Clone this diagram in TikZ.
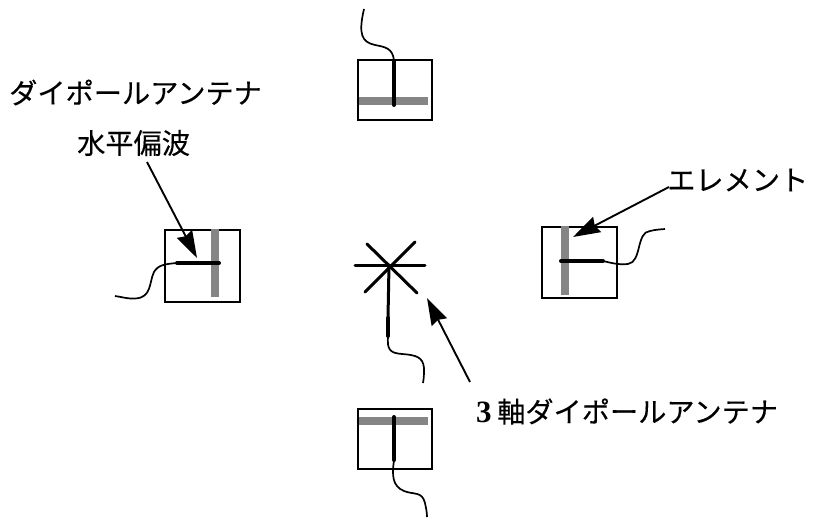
\documentclass[tikz,border=0pt]{standalone}
\usepackage{fontspec}
\setmainfont{Liberation Serif}
\newfontfamily\cjk[FakeBold=0.25]{Noto Sans CJK JP}
\usetikzlibrary{arrows.meta}
\definecolor{elemgray}{HTML}{858585}
\tikzset{
  x=1pt,y=-1pt,
  boxnode/.style={draw=black,line width=1.6pt,inner sep=0pt,anchor=north west},
  grayelem/.style={draw=none,fill=elemgray,inner sep=0pt,anchor=north west},
  feed/.style={line width=4pt,line cap=round,draw=black},
  wire/.style={line width=1.7pt,draw=black},
  callout/.style={line width=1.9pt,draw=black,fill=black,-{Stealth[length=27pt,width=17pt,inset=2.5pt]}},
  axisline/.style={line width=3pt,draw=black,line cap=round},
  jplabel/.style={inner sep=0pt,font=\fontsize{28.2}{30}\selectfont\cjk},
}
\begin{document}
\begin{tikzpicture}
\useasboundingbox (0,0) rectangle (815,519);
% top
\node[boxnode,minimum width=74pt,minimum height=60pt] (tbox) at (357,59) {};
\node[grayelem,minimum width=69pt,minimum height=8pt] (tbar) at (359,97) {};
\coordinate (tf1) at (394,61); \coordinate (tf2) at (394,105); \coordinate (tw) at (364,9);
\draw[feed] (tf1) -- (tf2);
\draw[wire] (tf1) .. controls (393,48) and (385,47) .. (375,45) .. controls (362,42) and (358,35) .. (tw);
% left
\node[boxnode,minimum width=75pt,minimum height=72pt] (lbox) at (164,229) {};
\node[grayelem,minimum width=8pt,minimum height=68pt] (lbar) at (211,229) {};
\coordinate (lf1) at (177,263); \coordinate (lf2) at (219,263); \coordinate (lw) at (115,296);
\draw[feed] (lf1) -- (lf2);
\draw[wire] (lf1) .. controls (165,264) and (158,265) .. (154,272) .. controls (149,282) and (152,298) .. (135,298.5) .. controls (128,299) and (122,297) .. (lw);
% right
\node[boxnode,minimum width=75pt,minimum height=71pt] (rbox) at (541,226) {};
\node[grayelem,minimum width=8pt,minimum height=69pt] (rbar) at (561,226) {};
\coordinate (rf1) at (561,261); \coordinate (rf2) at (603,261); \coordinate (rw) at (665,229);
\draw[feed] (rf1) -- (rf2);
\draw[wire] (rf2) .. controls (612,263) and (618,265) .. (628,264) .. controls (642,262) and (636,232) .. (650,231) .. controls (656,229.5) and (660,229.5) .. (rw);
% bottom
\node[boxnode,minimum width=74pt,minimum height=60pt] (bbox) at (357,408) {};
\node[grayelem,minimum width=69pt,minimum height=8pt] (bbar) at (359,417) {};
\coordinate (bf1) at (394,417); \coordinate (bf2) at (394,460); \coordinate (bw) at (427,517);
\draw[feed] (bf1) -- (bf2);
\draw[wire] (bf2) .. controls (392,475) and (392,486) .. (404,491) .. controls (414,495) and (422,491) .. (425,503) .. controls (426,508) and (427,512) .. (bw);
% centre
\coordinate (c) at (389,265);
\coordinate (ch1) at (355,265); \coordinate (ch2) at (425,265);
\coordinate (cd1) at (367,244); \coordinate (cd2) at (417,293);
\coordinate (cd3) at (415,242); \coordinate (cd4) at (365,292);
\coordinate (cv) at (388,336); \coordinate (cv0) at (388,318); \coordinate (cw) at (423,383);
\draw[axisline] (ch1) -- (ch2);
\draw[axisline] (cd1) -- (cd2);
\draw[axisline] (cd3) -- (cd4);
\draw[axisline] (c) -- (cv0);
\draw[feed] (cv0) -- (cv);
\draw[wire] (cv) .. controls (387,350) and (390,353) .. (402,354) .. controls (416,355) and (423,357) .. (424,368) .. controls (424,373) and (424,378) .. (cw);
% labels
\node[jplabel,anchor=west] (ldip) at (9,92.5) {ダイポールアンテナ};
\node[jplabel,anchor=west] (lpol) at (77,143) {水平偏波};
\node[jplabel,anchor=west] (lelem) at (667,180) {エレメント};
\node[jplabel,anchor=west] (l3ax) at (476,411.5) {{\fontsize{31}{30}\selectfont\rmfamily\bfseries 3}\hspace{5.5pt}軸ダイポールアンテナ};
% callouts
\coordinate (a1s) at (147,162); \coordinate (a1e) at (197,258);
\coordinate (a2s) at (669,187); \coordinate (a2e) at (573,237);
\coordinate (a3s) at (470,382); \coordinate (a3e) at (427,298);
\draw[callout] (a1s) -- (a1e);
\draw[callout] (a2s) -- (a2e);
\draw[callout] (a3s) -- (a3e);
\end{tikzpicture}
\end{document}
